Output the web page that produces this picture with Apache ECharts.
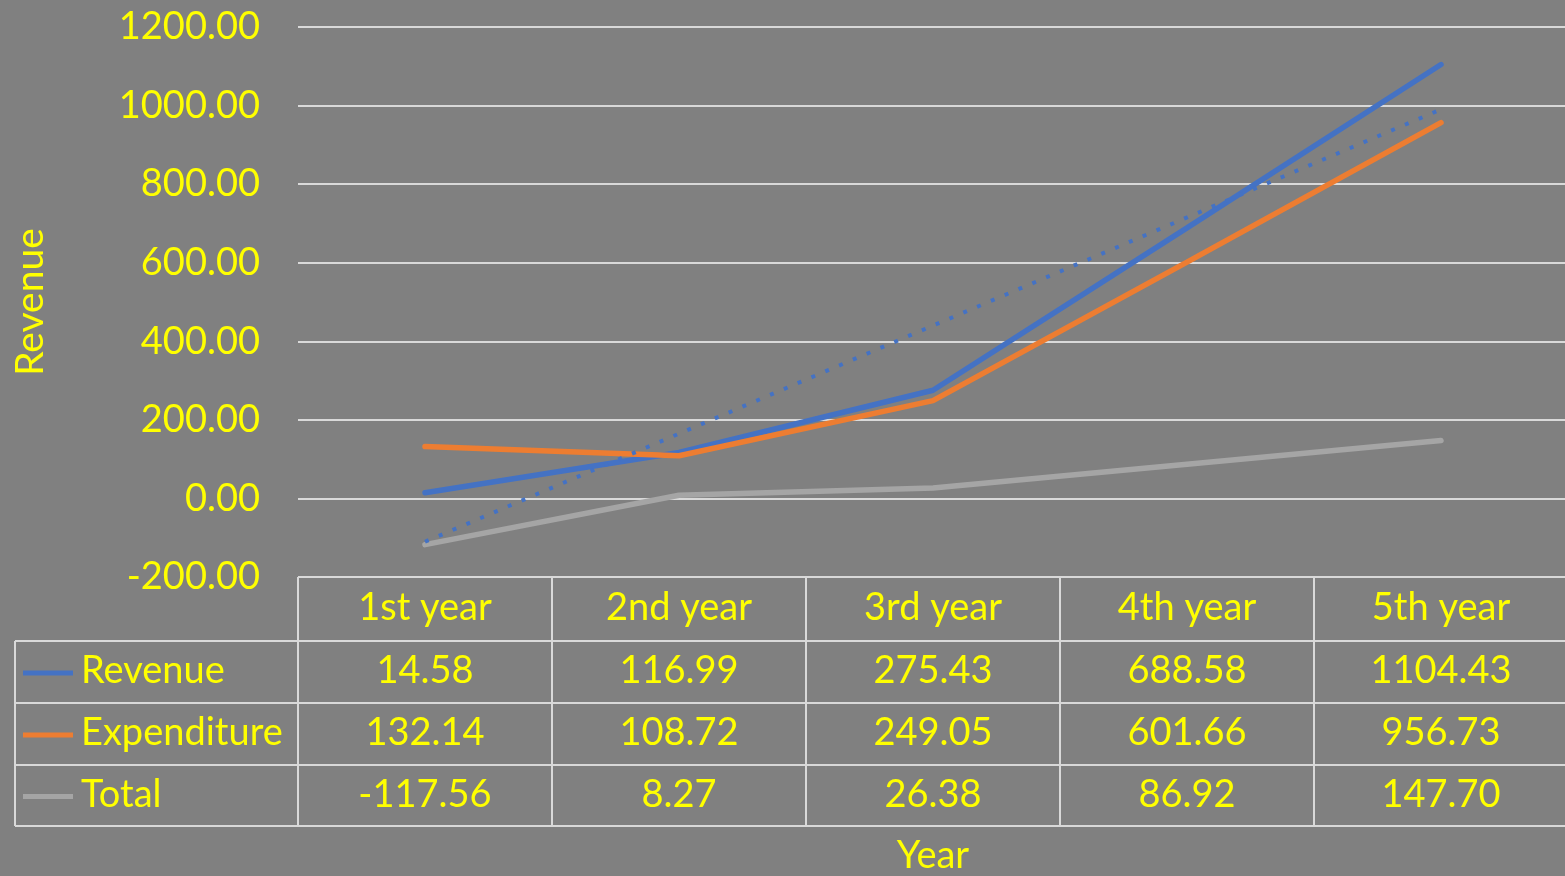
<!DOCTYPE html>
<html>
<head>
<meta charset="utf-8">
<script src="https://cdn.jsdelivr.net/npm/echarts@6/dist/echarts.min.js"></script>
<style>
  html, body { margin: 0; padding: 0; background: #808080; }
  #chart { width: 1565px; height: 876px; }
</style>
</head>
<body>
<div id="chart"></div>
<script>
// data
var years = ['1st year', '2nd year', '3rd year', '4th year', '5th year'];
var revenue = [14.58, 116.99, 275.43, 688.58, 1104.43];
var expenditure = [132.14, 108.72, 249.05, 601.66, 956.73];
var total = [-117.56, 8.27, 26.38, 86.92, 147.70];
// linear trendline of Revenue, ends
var trendEnds = [[0, -110.3], [4, 990.3]];
var yTicks = [-200, 0, 200, 400, 600, 800, 1000, 1200];

var seriesNames = ['Revenue', 'Expenditure', 'Total'];
var seriesData = [revenue, expenditure, total];
var colors = ['#4472C4', '#ED7D31', '#A5A5A5'];

var yellow = '#FFFF00';
var lineCol = '#D9D9D9';
var font = 'Lato';

var chart = echarts.init(document.getElementById('chart'));

// table layout
var gridLeft = 298, gridW = 1270, tableLeft = 15;
var rowTops = [577, 641, 703, 765, 826];
var colW = gridW / years.length;

var graphics = [];
function hline(x1, x2, y) {
    graphics.push({ type: 'line', shape: { x1: x1, y1: y, x2: x2, y2: y }, style: { stroke: lineCol, lineWidth: 2 }, z: 10 });
}
function vline(x, y1, y2) {
    graphics.push({ type: 'line', shape: { x1: x, y1: y1, x2: x, y2: y2 }, style: { stroke: lineCol, lineWidth: 2 }, z: 10 });
}
function cellText(txt, x, y, align) {
    graphics.push({ type: 'text', x: x, y: y, z: 11,
        style: { text: txt, fill: yellow, font: '38px ' + font, textAlign: align || 'center', textVerticalAlign: 'middle' } });
}

hline(gridLeft, gridLeft + gridW, rowTops[0]);
for (var r = 1; r < rowTops.length; r++) hline(tableLeft, gridLeft + gridW, rowTops[r]);
vline(tableLeft, rowTops[1], rowTops[4]);
for (var c = 0; c <= years.length; c++) vline(gridLeft + c * colW, rowTops[0], rowTops[4]);

// header
for (var i = 0; i < years.length; i++) {
    cellText(years[i], gridLeft + (i + 0.5) * colW, (rowTops[0] + rowTops[1]) / 2 - 1);
}
// rows
for (var s = 0; s < seriesNames.length; s++) {
    var cy = (rowTops[s + 1] + rowTops[s + 2]) / 2;
    graphics.push({ type: 'line', shape: { x1: 23, y1: cy + 1, x2: 73, y2: cy + 1 }, style: { stroke: colors[s], lineWidth: 5 }, z: 11 });
    cellText(seriesNames[s], 81, cy - 1, 'left');
    for (var j = 0; j < years.length; j++) {
        cellText(seriesData[s][j].toFixed(2), gridLeft + (j + 0.5) * colW, cy - 1);
    }
}
// x axis title
graphics.push({ type: 'text', x: 933, y: 856, z: 11,
    style: { text: 'Year', fill: yellow, font: '38px ' + font, textAlign: 'center', textVerticalAlign: 'middle' } });

var series = [];
for (var k = 0; k < seriesNames.length; k++) {
    series.push({
        name: seriesNames[k],
        type: 'line',
        data: seriesData[k],
        showSymbol: false,
        symbol: 'none',
        lineStyle: { color: colors[k], width: 5.5, cap: 'round' },
        z: 3
    });
}
series.push({
    name: 'Trend',
    type: 'line',
    data: trendEnds,
    symbol: 'none',
    lineStyle: { color: '#4472C4', width: 4, type: [4, 11], cap: 'butt' },
    z: 4
});

chart.setOption({
    backgroundColor: '#808080',
    animation: false,
    grid: { left: gridLeft, top: 27, width: gridW, height: 550, containLabel: false, outerBoundsMode: 'none' },
    xAxis: {
        type: 'category',
        data: years,
        boundaryGap: true,
        axisLine: { show: false },
        axisTick: { show: false },
        axisLabel: { show: false },
        splitLine: { show: false }
    },
    yAxis: {
        type: 'value',
        min: yTicks[0],
        max: yTicks[yTicks.length - 1],
        interval: 200,
        name: 'Revenue',
        nameLocation: 'middle',
        nameGap: 248,
        nameRotate: 90,
        nameTextStyle: { color: yellow, fontSize: 39, fontFamily: font },
        axisLine: { show: false },
        axisTick: { show: false },
        axisLabel: {
            color: yellow, fontSize: 38, fontFamily: font, margin: 38,
            padding: [0, 0, 8, 0],
            formatter: function (v) { return v.toFixed(2); }
        },
        splitLine: { lineStyle: { color: lineCol, width: 2 } }
    },
    series: series,
    graphic: graphics
});
</script>
</body>
</html>
